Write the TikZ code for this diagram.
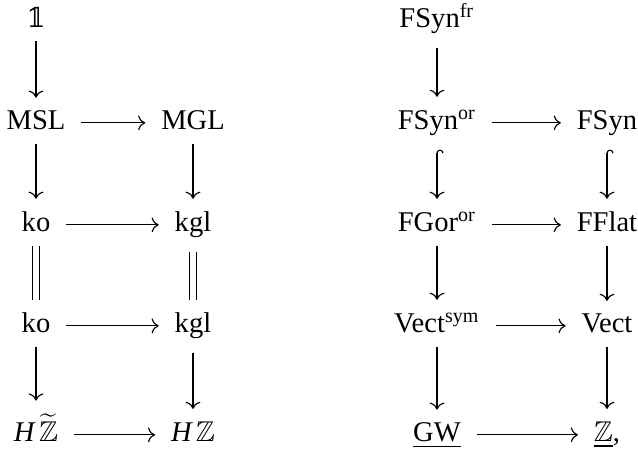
\documentclass[tikz,border=0pt]{standalone}
\usepackage{amsmath,amssymb}
\usepackage{fontspec}
\setmainfont{Liberation Serif}
\newfontfamily\dsfamily{DejaVu Serif}
\usetikzlibrary{cd,arrows.meta}

\tikzset{
  obj/.style={anchor=base, inner xsep=5.4pt, inner ysep=4.5pt, font=\fontsize{10}{12}\selectfont},
  mor/.style={line width=0.4pt, -{cm to}},
  incl/.style={line width=0.4pt, {Hooks[right]}-{cm to}},
  eq/.style={line width=0.4pt, double, double distance=2pt},
}

\begin{document}
\begin{tikzpicture}[x=0.35pt, y=-0.35pt]
  \useasboundingbox (0,0) rectangle (638,451);

  % left square stack
  \node[obj] (one)  at (36,28)   {{\dsfamily\fontsize{9.5}{11}\selectfont 𝟙}};
  \node[obj] (msl)  at (36,130)  {MSL};
  \node[obj] (mgl)  at (193,130) {MGL};
  \node[obj] (ko)   at (36,232)  {ko};
  \node[obj] (kgl)  at (193,232) {kgl};
  \node[obj] (koB)  at (36,333)  {ko};
  \node[obj] (kglB) at (193,333) {kgl};
  \node[obj] (hzt)  at (36,442)  {\textit{H}\kern1.2pt$\widetilde{\mathbb{Z}}$};
  \node[obj] (hz)   at (193,442) {\textit{H}\kern1pt$\mathbb{Z}$};

  \draw[mor] (one) -- (msl);
  \draw[mor] ([yshift=2.5pt]msl.base east) -- ([yshift=2.5pt]mgl.base west);
  \draw[mor] (msl) -- (ko);
  \draw[mor] (mgl) -- (kgl);
  \draw[mor] ([yshift=2.5pt]ko.base east) -- ([yshift=2.5pt]kgl.base west);
  \draw[eq] (ko) -- (koB);
  \draw[eq] (kgl) -- (kglB);
  \draw[mor] ([yshift=2.5pt]koB.base east) -- ([yshift=2.5pt]kglB.base west);
  \draw[mor] (koB) -- (hzt);
  \draw[mor] (kglB) -- (hz);
  \draw[mor] ([yshift=2.5pt]hzt.base east) -- ([yshift=2.5pt]hz.base west);

  % right square stack
  \node[obj] (fsfr)  at (437,28)  {FSyn$^{\text{fr}}$};
  \node[obj] (fsor)  at (437,130) {FSyn$^{\text{or}}$};
  \node[obj] (fs)    at (607,130) {FSyn};
  \node[obj] (fgor)  at (437,232) {FGor$^{\text{or}}$};
  \node[obj] (ffl)   at (607,232) {FFlat};
  \node[obj] (vsym)  at (437,333) {Vect$^{\text{sym}}$};
  \node[obj] (vect)  at (607,333) {Vect};
  \node[obj] (gw)    at (437,442) {$\underline{\text{GW}}$};
  \node[obj] (zz)    at (607,442) {$\underline{\mathbb{Z}}$,};

  \draw[mor] (fsfr) -- (fsor);
  \draw[mor] ([yshift=2.5pt]fsor.base east) -- ([yshift=2.5pt]fs.base west);
  \draw[incl] (fsor) -- (fgor);
  \draw[incl] (fs) -- (ffl);
  \draw[mor] ([yshift=2.5pt]fgor.base east) -- ([yshift=2.5pt]ffl.base west);
  \draw[mor] (fgor) -- (vsym);
  \draw[mor] (ffl) -- (vect);
  \draw[mor] ([yshift=2.5pt]vsym.base east) -- ([yshift=2.5pt]vect.base west);
  \draw[mor] (vsym) -- (gw);
  \draw[mor] (vect) -- (zz);
  \draw[mor] ([yshift=2.5pt]gw.base east) -- ([yshift=2.5pt]zz.base west);
\end{tikzpicture}
\end{document}
